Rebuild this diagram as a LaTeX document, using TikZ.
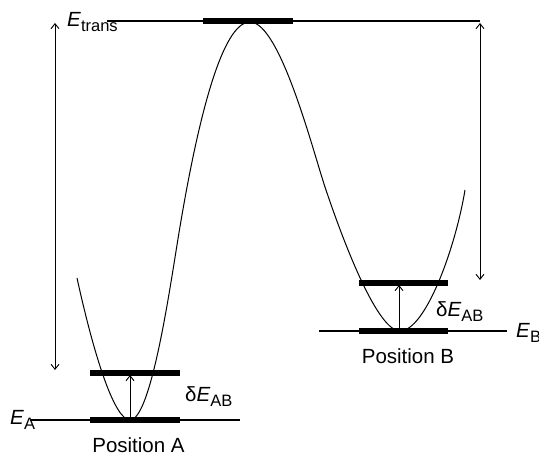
\documentclass[tikz,border=0pt]{standalone}
\usepackage{fontspec}
\setmainfont{Liberation Sans}
\usetikzlibrary{arrows.meta}
\newcommand\EnLab[2]{\textit{#1}\raisebox{-4.5pt}{\fontsize{16.5}{18}\selectfont #2}}
\begin{document}
\begin{tikzpicture}[x=1pt,y=-1pt,
  toplvl/.style={line width=1.8pt},
  lvl/.style={line width=1.3pt},
  bar/.style={line width=5.6pt},
  curve/.style={line width=1pt},
  dbl/.style={line width=0.9pt, {Straight Barb[length=5pt,width=8pt]}-{Straight Barb[length=5pt,width=8pt]}},
  uparr/.style={line width=0.9pt, -{Straight Barb[length=5pt,width=8pt]}},
  lab/.style={inner sep=0pt, font=\fontsize{20.5}{24}\selectfont}]
\useasboundingbox (0,0) rectangle (539,457);
% transition level
\coordinate (Tl) at (107,21); \coordinate (Tr) at (480,21);
\coordinate (Tb1) at (203,21); \coordinate (Tb2) at (293,21);
\draw[toplvl] (Tl) -- (Tr);
\draw[bar] (Tb1) -- (Tb2);
% level A
\coordinate (Al) at (30,420); \coordinate (Ar) at (240,420);
\coordinate (A1) at (90,420); \coordinate (A2) at (180,420);
\coordinate (Au1) at (90,373); \coordinate (Au2) at (180,373);
\draw[lvl] (Al) -- (Ar);
\draw[bar] (A1) -- (A2);
\draw[bar] (Au1) -- (Au2);
% level B
\coordinate (Bl) at (319,331); \coordinate (Br) at (507,331);
\coordinate (B1) at (359,331); \coordinate (B2) at (448,331);
\coordinate (Bu1) at (359,283); \coordinate (Bu2) at (448,283);
\draw[lvl] (Bl) -- (Br);
\draw[bar] (B1) -- (B2);
\draw[bar] (Bu1) -- (Bu2);
% potential curve
\coordinate (c0) at (77,278);
\coordinate (minA) at (130,420);
\coordinate (infl1) at (177,245);
\coordinate (peak) at (250,22);
\coordinate (infl2) at (325,187);
\coordinate (minB) at (400,331);
\coordinate (c1) at (465,190);
\draw[curve] (c0) .. controls (95,360) and (115,420) .. (minA)
  .. controls (150,420) and (168,301) .. (infl1)
  .. controls (197,120) and (222,22) .. (peak)
  .. controls (280,22) and (313,151) .. (infl2)
  .. controls (337,223) and (375,331) .. (minB)
  .. controls (425,331) and (455,250) .. (c1);
% arrows
\coordinate (La) at (55,23); \coordinate (Lb) at (55,370);
\coordinate (Ra) at (480,23); \coordinate (Rb) at (480,280);
\draw[dbl] (La) -- (Lb);
\draw[dbl] (Ra) -- (Rb);
\coordinate (sA0) at (130,419); \coordinate (sA1) at (130,375);
\coordinate (sB0) at (399,330); \coordinate (sB1) at (399,285);
\draw[uparr] (sA0) -- (sA1);
\draw[uparr] (sB0) -- (sB1);
% labels
\node[lab, anchor=base west] (Etr) at (67,27) {\EnLab{E}{trans}};
\node[lab, anchor=base west] (EA) at (10,425) {\EnLab{E}{A}};
\node[lab, anchor=base west] (EB) at (516,338) {\EnLab{E}{B}};
\node[lab, anchor=base west] (dA) at (185,402) {δ\EnLab{E}{AB}};
\node[lab, anchor=base west] (dB) at (436,317) {δ\EnLab{E}{AB}};
\node[lab, anchor=base] (PA) at (138.5,453) {Position A};
\node[lab, anchor=base] (PB) at (408,364) {Position B};
\end{tikzpicture}
\end{document}
